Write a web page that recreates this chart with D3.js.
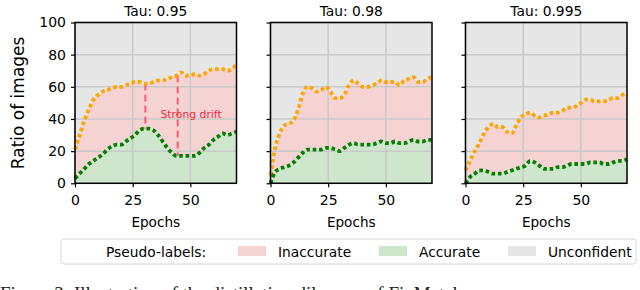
<!DOCTYPE html>
<html>
<head>
<meta charset="utf-8">
<script src="https://cdn.jsdelivr.net/npm/d3@7"></script>
<style>
  html, body { margin: 0; padding: 0; background: #fff; }
  svg { display: block; font-family: "DejaVu Sans", sans-serif; }
</style>
</head>
<body>
<svg id="chart" width="640" height="290"></svg>
<script>
// ---------------- data ----------------
const epochs = [0,2,4,6,8,10,12,14,16,18,20,22,24,26,28,30,32,34,36,38,40,42,44,46,48,50,52,54,56,58,60,62,64,66,68,70];
const taus = ["Tau: 0.95", "Tau: 0.98", "Tau: 0.995"];
// confident pseudo-labels (top of red area), %
const confident95  = [21,30,39,46,52,55,57,58,59,60,60,61,62,63,63,62,62,63,64,64,65,66,67,69,67,67,68,67,68,70,71,71,71,70,71,74];
const confident98  = [5,22,31,36,37,39,46,56,60,59,57,58,60,57,53,53,55,61,64,62,60,60,61,62,64,63,63,63,61,64,65,66,63,63,65,66];
const confident995 = [8,14,20,25,31,35,37,35,35,32,31,36,41,43,44,42,41,42,43,44,44,45,47,47,48,50,52,52,51,51,51,52,53,53,55,56];
// accurate pseudo-labels, %
const accurate95  = [3,6,9,12,14,16,18,21,23,24,24,26,28,30,33,34,34,33,30,26,22,19,17,17,17,17,17,19,22,24,27,29,31,30,31,32];
const accurate98  = [0,7,9,10,11,13,16,19,21,21,21,21,22,22,21,20,22,24,25,24,24,24,24,25,26,25,25,26,25,25,26,27,26,26,27,27];
const accurate995 = [0,4,6,8,8,7,6,6,6,7,8,9,10,11,14,13,11,9,9,9,10,10,11,12,12,12,12,13,13,13,12,12,13,14,14,15];
const yTicks = [0,20,40,60,80,100];
const xTicks = [0,25,50];
const legendLabels = ["Inaccurate", "Accurate", "Unconfident"];
const legendTitle = "Pseudo-labels:";
// annotation (first panel)
const driftEpochs = [30.5, 44.5];
const driftTop = [62, 67];
const driftBottom = [34, 17];
const driftLabel = "Strong drift";
const captionText = "Figure 3: Illustration of the distillation dilemma of FixMatch";

const confidentAll = [confident95, confident98, confident995];
const accurateAll = [accurate95, accurate98, accurate995];

// ---------------- styles ----------------
const colRed = "#f6d3d3", colGreen = "#cde6cc", colGray = "#e6e6e6";
const colGrid = "#c9c9c9";

const svg = d3.select("#chart");
const panelLefts = [75, 270.5, 465.5];
const panelW = 161.5, plotTop = 22.5, plotBottom = 183.3;

const y = d3.scaleLinear().domain([0,100]).range([plotBottom, plotTop]);

panelLefts.forEach((left, i) => {
  const x = d3.scaleLinear().domain([0,70]).range([left, left + panelW]);
  const g = svg.append("g");
  const conf = confidentAll[i], acc = accurateAll[i];
  const pts = epochs.map((e, k) => ({e, c: conf[k], a: acc[k]}));

  // background (unconfident)
  g.append("path").datum(pts)
    .attr("d", d3.area().x(d => x(d.e)).y0(y(100)).y1(d => y(d.c)))
    .attr("fill", colGray);
  // inaccurate
  g.append("path").datum(pts)
    .attr("d", d3.area().x(d => x(d.e)).y0(d => y(d.a)).y1(d => y(d.c)))
    .attr("fill", colRed);
  // accurate
  g.append("path").datum(pts)
    .attr("d", d3.area().x(d => x(d.e)).y0(y(0)).y1(d => y(d.a)))
    .attr("fill", colGreen);

  // grid
  g.append("g").selectAll("line").data(yTicks).join("line")
    .attr("x1", left).attr("x2", left + panelW)
    .attr("y1", d => y(d)).attr("y2", d => y(d))
    .attr("stroke", colGrid).attr("stroke-width", 1.5);
  g.append("g").selectAll("line").data(xTicks).join("line")
    .attr("y1", plotTop).attr("y2", plotBottom)
    .attr("x1", d => x(d)).attr("x2", d => x(d))
    .attr("stroke", colGrid).attr("stroke-width", 1.5);

  // annotation
  if (i === 0) {
    driftEpochs.forEach((e, k) => {
      g.append("line")
        .attr("x1", x(e)).attr("x2", x(e))
        .attr("y1", y(driftTop[k])).attr("y2", y(driftBottom[k]))
        .attr("stroke", "#f5606e").attr("stroke-width", 2)
        .attr("stroke-dasharray", "7,4");
    });
    g.append("text").attr("x", 160.5).attr("y", 118)
      .attr("font-size", 10.8).attr("fill", "#f0283a").text(driftLabel);
  }

  // lines
  const line = d3.line().x(d => x(d[0])).y(d => y(d[1])).curve(d3.curveMonotoneX);
  g.append("path").datum(epochs.map((e,k) => [e, conf[k]]))
    .attr("d", line).attr("fill", "none").attr("stroke", "#ffa500")
    .attr("stroke-width", 3.8).attr("stroke-dasharray", "3.6,2.8");
  g.append("path").datum(epochs.map((e,k) => [e, acc[k]]))
    .attr("d", line).attr("fill", "none").attr("stroke", "#008000")
    .attr("stroke-width", 3.8).attr("stroke-dasharray", "3.6,2.8");

  // axes
  const xAxis = d3.axisBottom(x).tickValues(xTicks).tickSize(4).tickPadding(8).tickFormat(d3.format("d"));
  const gx = g.append("g").attr("transform", `translate(0,${plotBottom})`).call(xAxis);
  gx.select(".domain").remove();
  gx.selectAll("text").attr("font-size", 14).attr("font-family", "DejaVu Sans").attr("fill", "#000");
  gx.selectAll("line").attr("stroke", "#000").attr("stroke-width", 1.2);

  const yAxis = d3.axisLeft(y).tickValues(yTicks).tickSize(4).tickPadding(5)
    .tickFormat(i === 0 ? d3.format("d") : () => "");
  const gy = g.append("g").attr("transform", `translate(${left},0)`).call(yAxis);
  gy.select(".domain").remove();
  gy.selectAll("text").attr("font-size", 14).attr("font-family", "DejaVu Sans").attr("fill", "#000");
  gy.selectAll("line").attr("stroke", "#000").attr("stroke-width", 1.2);

  // frame
  g.append("rect").attr("x", left).attr("y", plotTop).attr("width", panelW).attr("height", plotBottom - plotTop)
    .attr("fill", "none").attr("stroke", "#000").attr("stroke-width", 1.5);

  // title and x label
  g.append("text").attr("x", left + panelW/2).attr("y", 16).attr("text-anchor", "middle")
    .attr("font-size", 13.8).text(taus[i]);
  g.append("text").attr("x", left + panelW/2).attr("y", 227).attr("text-anchor", "middle")
    .attr("font-size", 13.6).text("Epochs");
});

// y label
svg.append("text").attr("transform", `translate(24,${(plotTop+plotBottom)/2}) rotate(-90)`)
  .attr("text-anchor", "middle").attr("font-size", 17).text("Ratio of images");

// legend
const lg = svg.append("g");
lg.append("rect").attr("x", 61).attr("y", 239).attr("width", 575).attr("height", 25)
  .attr("rx", 3).attr("fill", "#fff").attr("stroke", "#d6d6d6").attr("stroke-width", 1);
lg.append("text").attr("x", 106).attr("y", 256.5).attr("font-size", 13.8).text(legendTitle);
const legX = [238, 379, 508];
const legCols = [colRed, colGreen, colGray];
legendLabels.forEach((lab, k) => {
  lg.append("rect").attr("x", legX[k]).attr("y", 246).attr("width", 28).attr("height", 10).attr("fill", legCols[k]);
  lg.append("text").attr("x", legX[k] + 40).attr("y", 256.5).attr("font-size", 13.8).text(lab);
});

// caption (cut off at the bottom in the reference)
svg.append("text").attr("x", 0).attr("y", 300).attr("font-family", "Liberation Serif, serif")
  .attr("font-size", 19).attr("fill", "#222").text(captionText);
</script>
</body>
</html>
